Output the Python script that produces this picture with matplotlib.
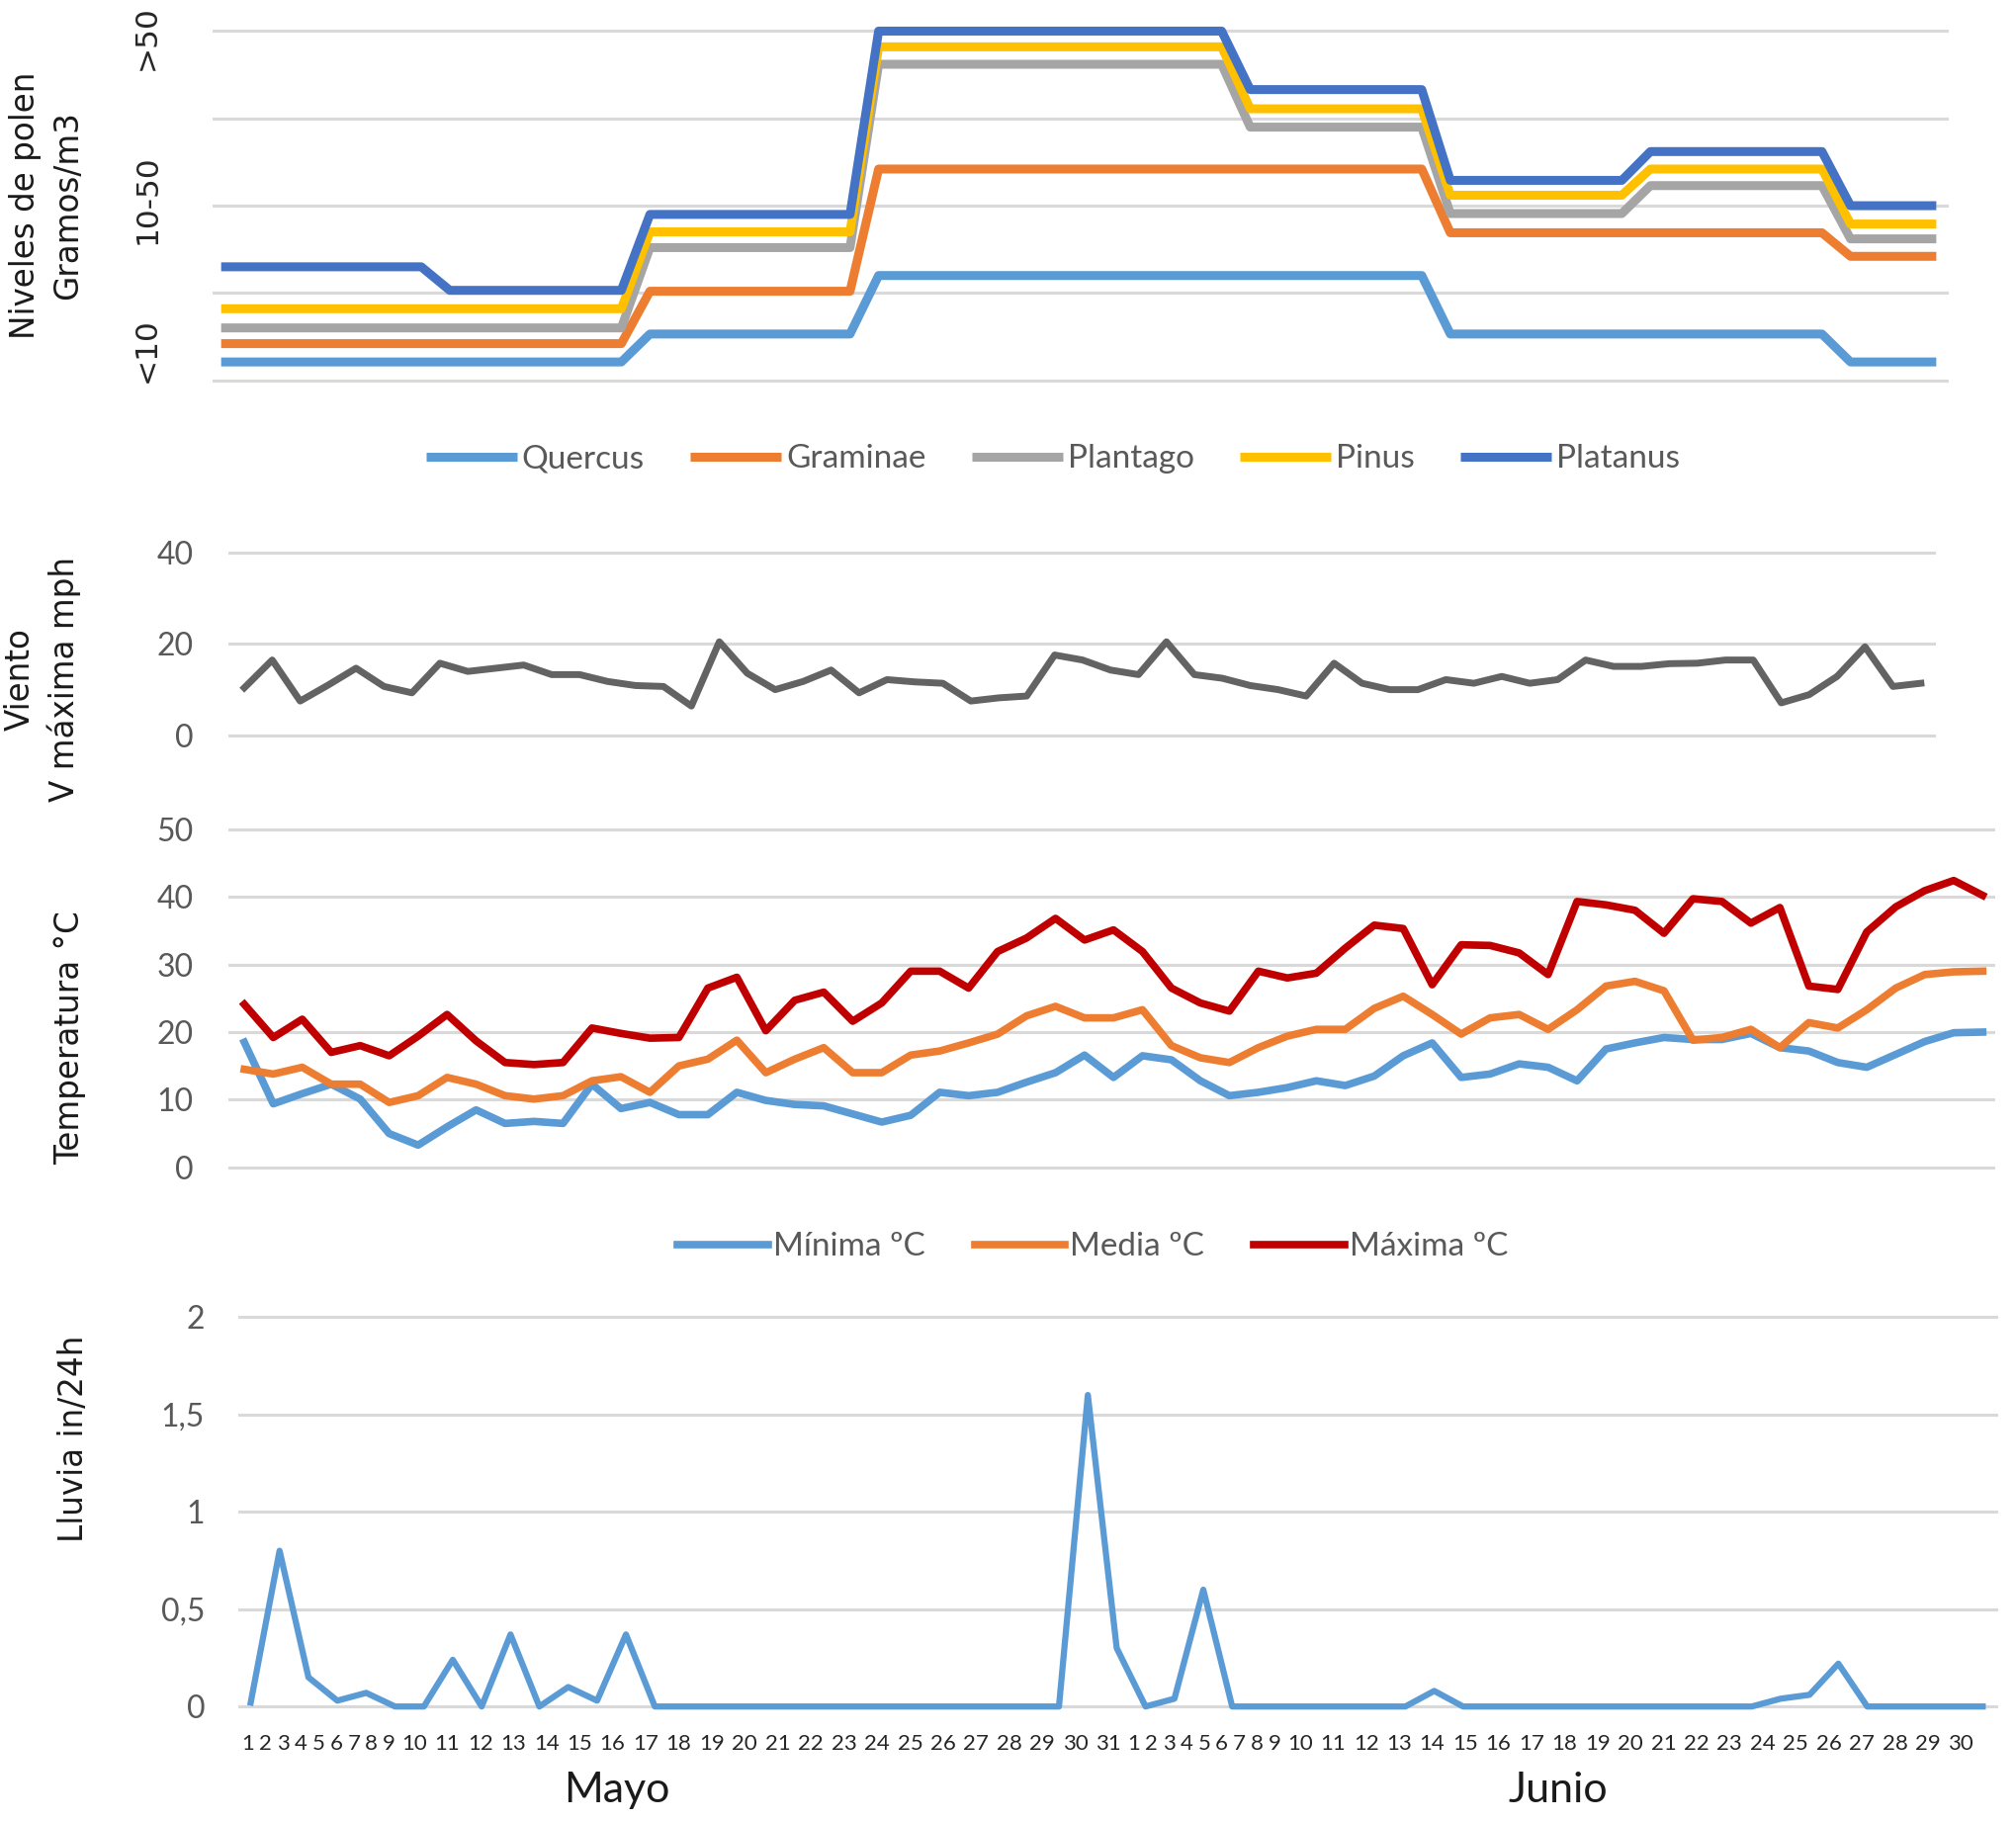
import numpy as np
import matplotlib
matplotlib.use("Agg")
import matplotlib.pyplot as plt

# Pollen levels (0 = bottom gridline, 4 = top gridline), one value per day, 1 May - 30 June
quercus = [0.21, 0.21, 0.21, 0.21, 0.21, 0.21, 0.21, 0.21, 0.21, 0.21, 0.21, 0.21, 0.21, 0.21, 0.21,
           0.53, 0.53, 0.53, 0.53, 0.53, 0.53, 0.53, 0.53,
           1.2, 1.2, 1.2, 1.2, 1.2, 1.2, 1.2, 1.2, 1.2, 1.2, 1.2, 1.2, 1.2, 1.2, 1.2, 1.2, 1.2, 1.2, 1.2, 1.2,
           0.53, 0.53, 0.53, 0.53, 0.53, 0.53, 0.53, 0.53, 0.53, 0.53, 0.53, 0.53, 0.53, 0.53,
           0.21, 0.21, 0.21, 0.21]
graminae = [0.42, 0.42, 0.42, 0.42, 0.42, 0.42, 0.42, 0.42, 0.42, 0.42, 0.42, 0.42, 0.42, 0.42, 0.42,
            1.02, 1.02, 1.02, 1.02, 1.02, 1.02, 1.02, 1.02,
            2.42, 2.42, 2.42, 2.42, 2.42, 2.42, 2.42, 2.42, 2.42, 2.42, 2.42, 2.42, 2.42, 2.42, 2.42, 2.42, 2.42, 2.42, 2.42, 2.42,
            1.69, 1.69, 1.69, 1.69, 1.69, 1.69, 1.69, 1.69, 1.69, 1.69, 1.69, 1.69, 1.69, 1.69,
            1.42, 1.42, 1.42, 1.42]
plantago = [0.6, 0.6, 0.6, 0.6, 0.6, 0.6, 0.6, 0.6, 0.6, 0.6, 0.6, 0.6, 0.6, 0.6, 0.6,
            1.52, 1.52, 1.52, 1.52, 1.52, 1.52, 1.52, 1.52,
            3.62, 3.62, 3.62, 3.62, 3.62, 3.62, 3.62, 3.62, 3.62, 3.62, 3.62, 3.62, 3.62,
            2.9, 2.9, 2.9, 2.9, 2.9, 2.9, 2.9,
            1.91, 1.91, 1.91, 1.91, 1.91, 1.91, 1.91,
            2.23, 2.23, 2.23, 2.23, 2.23, 2.23, 2.23,
            1.62, 1.62, 1.62, 1.62]
pinus = [0.82, 0.82, 0.82, 0.82, 0.82, 0.82, 0.82, 0.82, 0.82, 0.82, 0.82, 0.82, 0.82, 0.82, 0.82,
         1.7, 1.7, 1.7, 1.7, 1.7, 1.7, 1.7, 1.7,
         3.82, 3.82, 3.82, 3.82, 3.82, 3.82, 3.82, 3.82, 3.82, 3.82, 3.82, 3.82, 3.82,
         3.11, 3.11, 3.11, 3.11, 3.11, 3.11, 3.11,
         2.12, 2.12, 2.12, 2.12, 2.12, 2.12, 2.12,
         2.42, 2.42, 2.42, 2.42, 2.42, 2.42, 2.42,
         1.79, 1.79, 1.79, 1.79]
platanus = [1.3, 1.3, 1.3, 1.3, 1.3, 1.3, 1.3, 1.3,
            1.03, 1.03, 1.03, 1.03, 1.03, 1.03, 1.03,
            1.9, 1.9, 1.9, 1.9, 1.9, 1.9, 1.9, 1.9,
            4.0, 4.0, 4.0, 4.0, 4.0, 4.0, 4.0, 4.0, 4.0, 4.0, 4.0, 4.0, 4.0,
            3.33, 3.33, 3.33, 3.33, 3.33, 3.33, 3.33,
            2.29, 2.29, 2.29, 2.29, 2.29, 2.29, 2.29,
            2.62, 2.62, 2.62, 2.62, 2.62, 2.62, 2.62,
            2.0, 2.0, 2.0, 2.0]
pollen_names = ["Quercus", "Graminae", "Plantago", "Pinus", "Platanus"]
pollen_levels = ["<10", "10-50", ">50"]

# Max wind speed (mph)
viento = [10.4, 16.5, 7.5, 11.0, 14.7, 10.7, 9.3, 15.8, 14.0, 14.7,
          15.4, 13.3, 13.3, 11.8, 10.9, 10.7, 6.4, 20.5, 13.6, 10.0,
          11.8, 14.3, 9.3, 12.2, 11.7, 11.4, 7.5, 8.2, 8.6, 17.6,
          16.5, 14.3, 13.3, 20.5, 13.3, 12.5, 10.9, 10.0, 8.6, 15.8,
          11.4, 10.0, 10.0, 12.2, 11.4, 12.9, 11.4, 12.2, 16.5, 15.1,
          15.1, 15.7, 15.8, 16.5, 16.5, 7.1, 8.9, 12.9, 19.4, 10.7,
          11.4]

# Temperatures (C)
t_min = [18.5, 9.4, 10.9, 12.3, 10.1, 5.0, 3.3, 6.0, 8.5, 6.5,
         6.8, 6.5, 12.3, 8.7, 9.6, 7.8, 7.8, 11.1, 9.9, 9.3,
         9.1, 7.9, 6.7, 7.7, 11.1, 10.6, 11.1, 12.6, 14.0, 16.6,
         13.3, 16.5, 15.9, 12.8, 10.6, 11.1, 11.8, 12.8, 12.1, 13.5,
         16.5, 18.4, 13.3, 13.8, 15.3, 14.8, 12.8, 17.5, 18.4, 19.2,
         18.9, 18.9, 19.8, 17.7, 17.2, 15.5, 14.8, 16.7, 18.6, 19.9,
         20.0]
t_media = [14.5, 13.8, 14.8, 12.3, 12.3, 9.6, 10.6, 13.3, 12.3, 10.6,
           10.1, 10.6, 12.8, 13.4, 11.1, 15.0, 16.0, 18.8, 14.0, 16.0,
           17.7, 14.0, 14.0, 16.6, 17.2, 18.4, 19.7, 22.4, 23.8, 22.1,
           22.1, 23.3, 18.0, 16.2, 15.5, 17.7, 19.4, 20.4, 20.4, 23.5,
           25.3, 22.6, 19.7, 22.1, 22.6, 20.4, 23.3, 26.8, 27.5, 26.1,
           18.8, 19.2, 20.4, 17.7, 21.4, 20.6, 23.3, 26.5, 28.5, 28.9,
           29.0]
t_max = [24.1, 19.2, 21.9, 17.0, 18.0, 16.5, 19.4, 22.6, 18.7, 15.5,
         15.2, 15.5, 20.6, 19.8, 19.1, 19.2, 26.5, 28.1, 20.2, 24.7,
         25.9, 21.6, 24.3, 29.0, 29.0, 26.5, 31.9, 33.9, 36.8, 33.6,
         35.1, 31.9, 26.5, 24.3, 23.1, 29.0, 28.0, 28.7, 32.4, 35.8,
         35.3, 27.0, 32.9, 32.8, 31.7, 28.5, 39.3, 38.8, 38.0, 34.6,
         39.7, 39.3, 36.1, 38.4, 26.8, 26.3, 34.8, 38.5, 40.9, 42.4,
         40.2]
temp_names = ["Mínima ºC", "Media ºC", "Máxima ºC"]

# Rain (in/24h)
lluvia = [0.02, 0.8, 0.15, 0.03, 0.07, 0, 0, 0.24, 0, 0.37,
          0, 0.1, 0.03, 0.37, 0, 0, 0, 0, 0, 0,
          0, 0, 0, 0, 0, 0, 0, 0, 0, 1.6,
          0.3, 0, 0.04, 0.6, 0, 0, 0, 0, 0, 0,
          0, 0.08, 0, 0, 0, 0, 0, 0, 0, 0,
          0, 0, 0, 0.04, 0.06, 0.22, 0, 0, 0, 0,
          0]
rain_ticks = [0, 0.5, 1, 1.5, 2]
rain_ticklabels = ["0", "0,5", "1", "1,5", "2"]

may_days = [str(d) for d in range(1, 32)]
june_days = [str(d) for d in range(1, 31)]
day_labels = may_days + june_days

# layout grid (reference measured on a 1568 x 1416.5 canvas)
W, H = 1568, 1416.5


def box(x0, y0, x1, y1):
    return [x0 / W, 1 - y1 / H, (x1 - x0) / W, (y1 - y0) / H]


TICK_FONT = ["Lato", "DejaVu Sans"]
LABEL_FONT = ["DejaVu Sans"]
GRID = "#D9D9D9"
TXT_GRAY = "#595959"

plt.rcParams["font.family"] = TICK_FONT

fig = plt.figure(figsize=(20.39, 18.42), dpi=100)
x = np.arange(len(quercus))


def clean(ax, pad):
    for s in ax.spines.values():
        s.set_visible(False)
    ax.grid(axis="y", color=GRID, lw=2.2)
    ax.set_axisbelow(True)
    ax.tick_params(axis="both", which="both", length=0)
    ax.tick_params(axis="y", labelsize=23, labelcolor=TXT_GRAY, pad=pad)
    ax.set_xticks([])


# ---- pollen ----
ax1 = fig.add_axes(box(165, 14, 1516, 306))
pollen_colors = ["#5B9BD5", "#ED7D31", "#A5A5A5", "#FFC000", "#4472C4"]
for vals, c, name in zip([quercus, graminae, plantago, pinus, platanus], pollen_colors, pollen_names):
    ax1.plot(x, vals, color=c, lw=6.5, solid_joinstyle="round", solid_capstyle="butt", label=name)
ax1.set_xlim(-0.315, 60.45)
ax1.set_ylim(-0.15, 4.15)
ax1.set_yticks([0, 1, 2, 3, 4])
ax1.set_yticklabels([])
clean(ax1, 10)
ax1.set_yticks([0.35, 2.07, 3.93], pollen_levels, minor=True, rotation=90, va="center",
               fontsize=22.5, color="#262626", family=LABEL_FONT)
ax1.tick_params(axis="y", which="minor", pad=37)
ax1.yaxis.grid(False, which="minor")

fig.legend(*ax1.get_legend_handles_labels(), loc="center", bbox_to_anchor=(819 / W, 1 - 357 / H),
           ncol=5, frameon=False, handlelength=2.75, handletextpad=0.15, columnspacing=1.4,
           fontsize=24, labelcolor=TXT_GRAY)

# ---- wind ----
ax2 = fig.add_axes(box(178, 423, 1506, 579))
ax2.plot(x, viento, color="#636363", lw=5, solid_joinstyle="round")
ax2.set_xlim(-0.552, 60.55)
ax2.set_ylim(-2, 42)
ax2.set_yticks([0, 20, 40])
clean(ax2, 26)

# ---- temperature ----
ax3 = fig.add_axes(box(178, 637, 1552, 916))
temp_colors = ["#5B9BD5", "#ED7D31", "#C00000"]
for vals, c, name in zip([t_min, t_media, t_max], temp_colors, temp_names):
    ax3.plot(x, vals, color=c, lw=5.5, solid_joinstyle="round", label=name)
ax3.set_xlim(-0.533, 60.44)
ax3.set_ylim(-1.5, 51.5)
ax3.set_yticks([0, 10, 20, 30, 40, 50])
clean(ax3, 26)

fig.legend(*ax3.get_legend_handles_labels(), loc="center", bbox_to_anchor=(850 / W, 1 - 970 / H),
           ncol=3, frameon=False, handlelength=2.75, handletextpad=0.15, columnspacing=1.5,
           fontsize=24, labelcolor=TXT_GRAY)

# ---- rain ----
ax4 = fig.add_axes(box(185, 1017, 1554, 1335))
ax4.plot(x, lluvia, color="#5B9BD5", lw=4.5, solid_joinstyle="round")
ax4.set_xlim(-0.445, 60.53)
ax4.set_ylim(-0.05, 2.05)
ax4.set_yticks(rain_ticks)
ax4.set_yticklabels(rain_ticklabels)
clean(ax4, 24)

# day labels are packed by text width, as in the source chart
widths = np.array([0.61 if len(s) == 1 else 1.145 for s in day_labels])
centers = -0.09 + np.concatenate([[0], np.cumsum((widths[:-1] + widths[1:]) / 2)])
ax4.set_xticks(centers, day_labels)
ax4.tick_params(axis="x", labelsize=16, labelcolor="#262626", pad=13)

fig.text(480 / W, 1 - 1393 / H, "Mayo", ha="center", va="center", fontsize=31, color="#1a1a1a")
fig.text(1212 / W, 1 - 1393 / H, "Junio", ha="center", va="center", fontsize=31, color="#1a1a1a")

# axis titles
ylab = dict(rotation=90, ha="center", va="center", fontsize=23.5, family=LABEL_FONT,
            linespacing=1.4, multialignment="center", color="#1a1a1a")
fig.text(36 / W, 1 - 160 / H, "Niveles de polen\nGramos/m3", **ylab)
fig.text(33 / W, 1 - 528 / H, "Viento\nV máxima mph", **ylab)
fig.text(54 / W, 1 - 807 / H, "Temperatura °C", **ylab)
fig.text(57 / W, 1 - 1119 / H, "Lluvia in/24h", **ylab)

fig.savefig("out.png", dpi=100, facecolor="white")
